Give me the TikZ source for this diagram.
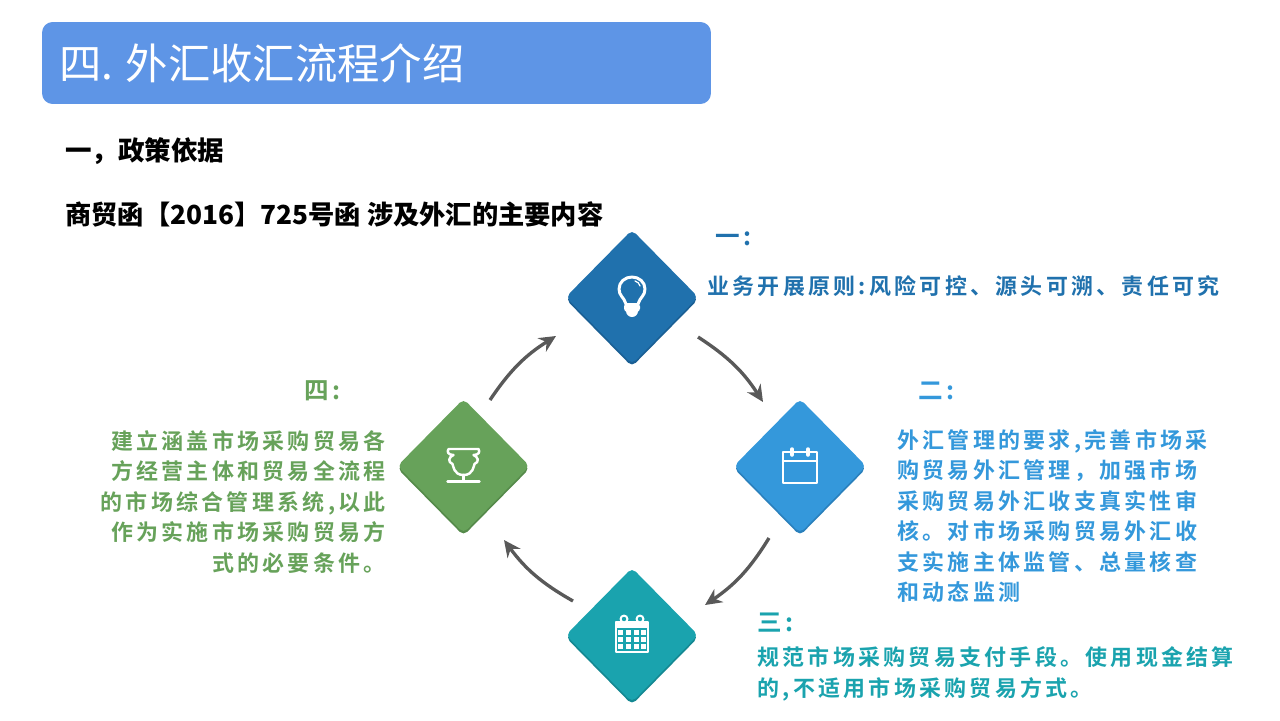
\documentclass[tikz,border=0pt]{standalone}
\usepackage{fontspec}
\usepackage{xcolor}
\usetikzlibrary{shapes.geometric, arrows.meta, shadows}
\setmainfont{Noto Sans CJK SC}
\newfontfamily\spacedfont[LetterSpace=15,BoldFont={Noto Sans CJK SC Bold}]{Noto Sans CJK SC}
\definecolor{titleblue}{HTML}{5E95E6}
\definecolor{oneblue}{HTML}{2071AD}
\definecolor{oneshade}{HTML}{1A5F94}
\definecolor{twoblue}{HTML}{3498DB}
\definecolor{twoshade}{HTML}{2A80BC}
\definecolor{threeteal}{HTML}{1AA3AE}
\definecolor{threeshade}{HTML}{148892}
\definecolor{fourgreen}{HTML}{67A25A}
\definecolor{fourshade}{HTML}{558A4A}
\definecolor{arrowgrey}{HTML}{595959}
\tikzset{
	stepdiamond/.style 2 args={diamond, aspect=1, inner sep=0pt, minimum width=2.65cm, minimum height=2.69cm, rounded corners=3pt, fill=#1,
		copy shadow={fill=#2, draw=none, shadow xshift=0pt, shadow yshift=-0.05cm}},
	flowarrow/.style={draw=arrowgrey, line width=1.9pt, -{Stealth[length=9.5pt, width=9pt]}},
	heading/.style={anchor=west, text=black, font=\fontsize{15.1}{18}\selectfont\bfseries},
	stepmark/.style={anchor=west, font=\spacedfont\fontsize{14}{17}\selectfont\bfseries},
	steptext/.style={inner sep=0pt, font=\spacedfont\fontsize{12.5}{17.35}\selectfont\bfseries},
	iconline/.style={draw=white, line width=1.4pt, line join=round, line cap=round},
	iconfill/.style={fill=white, draw=none}
}
\begin{document}
\begin{tikzpicture}[x=0.02cm, y=-0.02cm]
	\useasboundingbox (0,0) rectangle (1280,720);
	
	\node[fill=titleblue, rounded corners=6pt, minimum width=13.38cm, minimum height=1.64cm, inner sep=0pt] (titlebar) at (376.5,63) {};
	\node[anchor=west, text=white, font=\fontsize{24.1}{28}\selectfont] (titletext) at (53,63) {四. 外汇收汇流程介绍};
	\node[heading] (policy) at (59,151.5) {一，政策依据};
	\node[heading, font=\fontsize{14.95}{18}\selectfont\bfseries] (letter) at (59,214.5) {商贸函【2016】725号函 涉及外汇的主要内容};
	
	\node[stepdiamond={oneblue}{oneshade}] (lamp) at (632,297) {};
	\node[stepdiamond={twoblue}{twoshade}] (plan) at (800,466) {};
	\node[stepdiamond={threeteal}{threeshade}] (month) at (632,635) {};
	\node[stepdiamond={fourgreen}{fourshade}] (cup) at (463.5,466) {};
	
	% arrows between the diamonds
	\draw[flowarrow] ([shift={(66,40)}]lamp.center) to[bend left=12] ([shift={(-37,-64)}]plan.center);
	\draw[flowarrow] ([shift={(-31,72)}]plan.center) to[bend left=12] ([shift={(73,-30)}]month.center);
	\draw[flowarrow] ([shift={(-59,-34)}]month.center) to[bend left=12] ([shift={(40.5,74)}]cup.center);
	\draw[flowarrow] ([shift={(26.5,-66)}]cup.center) to[bend left=12] ([shift={(-76,39)}]lamp.center);
	
	% lamp
	\begin{scope}[shift={(lamp)}]
		\draw[iconline, line width=1.7pt] (-6,7) .. controls (-8,0) and (-13,-1) .. (-13,-8) .. controls (-13,-15) and (-7,-20) .. (0,-20) .. controls (7,-20) and (13,-15) .. (13,-8) .. controls (13,-1) and (8,0) .. (6,7);
		\draw[iconline, line width=0.7pt] (3,-16) .. controls (6,-15) and (7,-14) .. (8,-11);
		\fill[iconfill, rounded corners=2pt] (-8,6) rectangle (8,15);
		\fill[iconfill] (0,14) circle [radius=6];
	\end{scope}
	
	% plan
	\begin{scope}[shift={(plan)}]
		\draw[iconline] (-17,-14) rectangle (17,17);
		\draw[iconline] (-17,-5) -- (17,-5);
		\draw[iconline, line width=2pt] (-8,-17) -- (-8,-11);
		\draw[iconline, line width=2pt] (8,-17) -- (8,-11);
	\end{scope}
	
	% month
	\begin{scope}[shift={(month)}]
		\draw[iconline] (-16,-13) rectangle (16,17);
		\fill[iconfill] (-16,-13) rectangle (16,-7);
		\foreach \col in {-11.5,-4,4,11.5} {
			\foreach \row in {-3,4,11} {
				\fill[iconfill] (\col-2.5,\row-2.5) rectangle (\col+2.5,\row+2.5);
			}
		}
		\fill[iconfill] (-8,-16) circle [radius=4.5];
		\fill[iconfill] (8,-16) circle [radius=4.5];
		\fill[threeteal] (-8,-16) circle [radius=2.2];
		\fill[threeteal] (8,-16) circle [radius=2.2];
	\end{scope}
	
	% cup
	\begin{scope}[shift={(cup)}]
		\draw[iconline] (-15,-17) -- (15,-17) .. controls (17,-14) and (15,-11) .. (10,-11) .. controls (15,-9) and (16,-4) .. (11,-2) .. controls (10,0) and (10,9) .. (0,9) .. controls (-10,9) and (-10,0) .. (-11,-2) .. controls (-16,-4) and (-15,-9) .. (-10,-11) .. controls (-15,-11) and (-17,-14) .. (-15,-17);
		\draw[iconline] (0,9) -- (0,15);
		\draw[iconline] (-16,15.5) -- (16,15.5);
	\end{scope}
	
	% labels of the four steps
	\node[stepmark, text=oneblue] (markone) at (709,239) {一:};
	\node[steptext, text=oneblue, anchor=west] (textone) at (707,286.5) {业务开展原则:风险可控、源头可溯、责任可究};
	\node[stepmark, text=twoblue] (marktwo) at (912,391) {二:};
	\node[steptext, text=twoblue, anchor=north west, align=left] (texttwo) at (897,429) {外汇管理的要求,完善市场采\\购贸易外汇管理，加强市场\\采购贸易外汇收支真实性审\\核。对市场采购贸易外汇收\\支实施主体监管、总量核查\\和动态监测};
	\node[stepmark, text=threeteal] (markthree) at (751,623) {三:};
	\node[steptext, text=threeteal, anchor=north west, align=left] (textthree) at (757,646.5) {规范市场采购贸易支付手段。使用现金结算\\的,不适用市场采购贸易方式。};
	\node[stepmark, text=fourgreen] (markfour) at (298,391) {四:};
	\node[steptext, text=fourgreen, anchor=north east, align=right] (textfour) at (386,430) {建立涵盖市场采购贸易各\\方经营主体和贸易全流程\\的市场综合管理系统,以此\\作为实施市场采购贸易方\\式的必要条件。};
\end{tikzpicture}
\end{document}
